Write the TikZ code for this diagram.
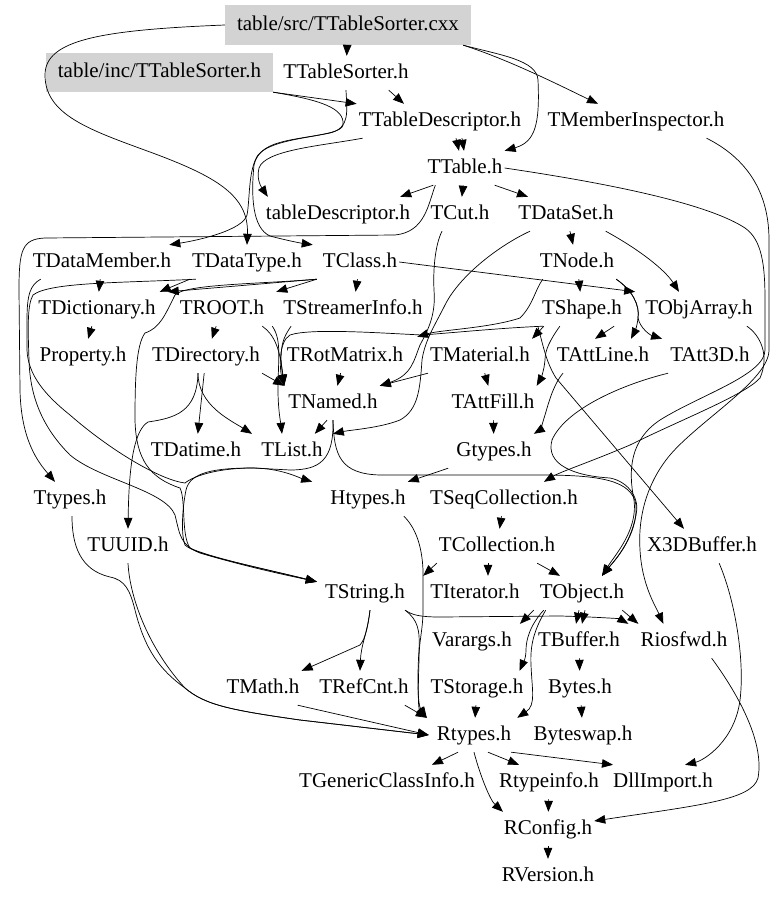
\documentclass[tikz,border=0pt]{standalone}
\usepackage{fontspec}
\setmainfont{Liberation Serif}
\usetikzlibrary{arrows.meta}
\definecolor{srcgray}{RGB}{211,211,211}
\newcommand\nodefont{\fontsize{21}{25}\selectfont}
\tikzset{
  n/.style={inner xsep=2pt, inner ysep=0pt, text height=14pt, text depth=4pt, minimum height=34pt, font=\nodefont},
  srcbox/.style={n, fill=srcgray},
  e/.style={draw, line width=0.7pt, -{Triangle[length=11pt,width=8.5pt]}}
}
\begin{document}
\begin{tikzpicture}[x=1pt,y=1pt]
\fill[white] (0,0) rectangle (779,-900);
\useasboundingbox (0,0) rectangle (779,-900);
% nodes
\node[srcbox, minimum width=246pt, minimum height=40pt] (cxx) at (348,-25) {table/src/TTableSorter.cxx};
\node[srcbox, minimum width=227pt, minimum height=39pt] (inc) at (159.5,-72.5) {table/inc/TTableSorter.h};
\node[n] (TTS) at (346,-73) {TTableSorter.h};
\node[n] (TTD) at (440,-121) {TTableDescriptor.h};
\node[n] (TMI) at (636,-121) {TMemberInspector.h};
\node[n] (TTable) at (465,-168) {TTable.h};
\node[n] (tdesc) at (338,-214) {tableDescriptor.h};
\node[n] (TCut) at (460,-214) {TCut.h};
\node[n] (TDataSet) at (566,-214) {TDataSet.h};
\node[n] (TDataMember) at (102,-262) {TDataMember.h};
\node[n] (TDataType) at (247,-262) {TDataType.h};
\node[n] (TClass) at (360,-262) {TClass.h};
\node[n] (TNode) at (577,-262) {TNode.h};
\node[n] (TDictionary) at (97,-309) {TDictionary.h};
\node[n] (TROOT) at (222,-309) {TROOT.h};
\node[n] (TStreamerInfo) at (353,-309) {TStreamerInfo.h};
\node[n] (TShape) at (582,-309) {TShape.h};
\node[n] (TObjArray) at (699,-309) {TObjArray.h};
\node[n] (Property) at (83,-356) {Property.h};
\node[n] (TDirectory) at (206,-356) {TDirectory.h};
\node[n] (TRotMatrix) at (345,-356) {TRotMatrix.h};
\node[n] (TMaterial) at (480,-356) {TMaterial.h};
\node[n] (TAttLine) at (603,-356) {TAttLine.h};
\node[n] (TAtt3D) at (710,-356) {TAtt3D.h};
\node[n] (TNamed) at (333,-403) {TNamed.h};
\node[n] (TAttFill) at (493,-403) {TAttFill.h};
\node[n] (TDatime) at (196,-451) {TDatime.h};
\node[n] (TList) at (292,-451) {TList.h};
\node[n] (Gtypes) at (494,-451) {Gtypes.h};
\node[n] (Ttypes) at (70,-499) {Ttypes.h};
\node[n] (Htypes) at (368,-499) {Htypes.h};
\node[n] (TSeqCollection) at (504,-499) {TSeqCollection.h};
\node[n] (TUUID) at (128,-546) {TUUID.h};
\node[n] (TCollection) at (497,-546) {TCollection.h};
\node[n] (X3DBuffer) at (702,-546) {X3DBuffer.h};
\node[n] (TString) at (365,-593) {TString.h};
\node[n] (TIterator) at (475,-593) {TIterator.h};
\node[n] (TObject) at (582,-593) {TObject.h};
\node[n] (Varargs) at (472,-641) {Varargs.h};
\node[n] (TBuffer) at (579,-641) {TBuffer.h};
\node[n] (Riosfwd) at (684,-641) {Riosfwd.h};
\node[n] (TMath) at (263,-688) {TMath.h};
\node[n] (TRefCnt) at (364,-688) {TRefCnt.h};
\node[n] (TStorage) at (477,-688) {TStorage.h};
\node[n] (Bytes) at (580,-688) {Bytes.h};
\node[n] (Rtypes) at (474,-735) {Rtypes.h};
\node[n] (Byteswap) at (583,-735) {Byteswap.h};
\node[n] (TGCI) at (387,-782) {TGenericClassInfo.h};
\node[n] (Rtypeinfo) at (549,-782) {Rtypeinfo.h};
\node[n] (DllImport) at (663,-782) {DllImport.h};
\node[n] (RConfig) at (548,-829) {RConfig.h};
\node[n] (RVersion) at (548,-876) {RVersion.h};
% top edges
\draw[e] (cxx) -- (TTS);
\draw[e] ([xshift=-8pt]cxx.south east) .. controls (510,-60) and (565,-88) .. ([xshift=-38pt]TMI.north);
\draw[e] ([xshift=-8pt]cxx.south east) .. controls (500,-55) and (537,-60) .. (538,-80) .. controls (540,-125) and (535,-142) .. (TTable.north east);
\draw[e] (cxx.west) .. controls (100,-30) and (45,-40) .. (45,-75) .. controls (45,-115) and (90,-130) .. (150,-152) .. controls (215,-176) and (249,-195) .. (TDataType.north);
\draw[e] (inc.south east) -- (TTD.north west);
\draw[e] (inc.south east) .. controls (320,-100) and (345,-108) .. (343,-125) .. controls (341,-138) and (275,-135) .. (258,-155) .. controls (248,-170) and (250,-200) .. (247,-215) .. controls (243,-230) and (200,-240) .. ([xshift=-4pt]TDataMember.north east);
\draw[e] ([xshift=-22pt]TTS.south east) -- ([xshift=-36pt]TTD.north);
\draw[e] (TTS.south) .. controls (347,-112) and (350,-128) .. (330,-133) .. controls (290,-141) and (260,-140) .. (254,-165) .. controls (251,-195) and (252,-228) .. (270,-236) .. controls (285,-240) and (300,-243) .. ([xshift=-8pt]TClass.north west);
\draw[e] ([xshift=6pt]TTD.south west) .. controls (320,-146) and (265,-150) .. (259,-168) .. controls (256,-180) and (262,-188) .. ([xshift=4pt]tdesc.north west);
\draw[e] ([xshift=16pt]TTD.south) -- ([xshift=-6pt]TTable.north);
\draw[e] ([xshift=22pt]TTD.south) -- ([xshift=-1pt]TTable.north);
\draw[e] ([xshift=8pt]TTable.south west) -- ([xshift=-12pt]tdesc.north east);
\draw[e] (TTable) -- (TCut);
\draw[e] ([xshift=-10pt]TTable.south east) -- ([xshift=-38pt]TDataSet.north);
\draw[e] ([xshift=10pt]TTable.south west) .. controls (428,-205) and (425,-232) .. (395,-235) -- (45,-238) .. controls (22,-239) and (19,-250) .. (19,-290) -- (20,-390) .. controls (21,-440) and (38,-462) .. ([xshift=-15pt]Ttypes.north);
\draw[e] (TTable.east) .. controls (620,-185) and (710,-205) .. (745,-228) .. controls (762,-240) and (765,-265) .. (765,-300) -- (765,-350) .. controls (765,-375) and (700,-395) .. (660,-420) .. controls (630,-440) and (628,-470) .. (634,-500) .. controls (638,-530) and (615,-555) .. ([xshift=20pt]TObject.north);
\draw[e] ([xshift=-20pt]TMI.south east) .. controls (740,-155) and (769,-185) .. (769,-240) -- (769,-350) .. controls (769,-380) and (700,-420) .. (670,-455) .. controls (645,-485) and (638,-520) .. (640,-550) .. controls (642,-585) and (655,-605) .. ([xshift=25pt]Riosfwd.north west);
% class level
\draw[e] (TDataSet) -- (TNode);
\draw[e] ([xshift=-10pt]TDataSet.south east) .. controls (640,-250) and (665,-270) .. ([xshift=-20pt]TObjArray.north);
\draw[e] (TDataMember) -- (TDictionary);
\draw[e] (TDataType.south west) -- ([xshift=2pt]TDictionary.north east);
\draw[e] ([xshift=-4pt]TClass.south west) -- ([xshift=10pt]TDictionary.north east);
\draw[e] ([xshift=-4pt]TClass.south west) -- ([xshift=10pt]TROOT.north east);
\draw[e] (TClass) -- (TStreamerInfo);
\draw[e] (TClass.east) -- ([xshift=-8pt]TObjArray.north west);
\draw[e] ([xshift=10pt]TDataMember.south west) .. controls (30,-285) and (27,-295) .. (27,-320) -- (27,-350) .. controls (28,-375) and (45,-395) .. (70,-415) .. controls (110,-450) and (160,-480) .. (185,-483) .. controls (195,-475) and (220,-468) .. (253,-468) .. controls (280,-468) and (300,-478) .. ([xshift=-16pt]Htypes.north west);
\draw[e] ([xshift=6pt]TDataType.south west) .. controls (120,-283) and (50,-282) .. (33,-295) .. controls (27,-305) and (28,-330) .. (29,-360) .. controls (30,-400) and (45,-430) .. (70,-455) .. controls (100,-480) and (165,-490) .. (175,-515) .. controls (180,-535) and (180,-545) .. (200,-553) .. controls (250,-568) and (300,-578) .. ([xshift=-6pt,yshift=-6pt]TString.north west);
\draw[e] ([xshift=-4pt]TClass.south west) .. controls (260,-284) and (185,-284) .. (175,-295) .. controls (165,-315) and (160,-328) .. (145,-333) .. controls (136,-345) and (135,-380) .. (135,-420) .. controls (136,-460) and (150,-478) .. (180,-488) .. controls (186,-500) and (181,-535) .. (190,-548) .. controls (210,-558) and (290,-575) .. ([xshift=-6pt,yshift=-6pt]TString.north west);
% dictionary / root level
\draw[e] (TDictionary) -- (Property);
\draw[e] (TROOT) -- (TDirectory);
\draw[e] ([xshift=-4pt]TROOT.south east) .. controls (275,-335) and (280,-350) .. ([xshift=-2pt]TNamed.north west);
\draw[e] ([xshift=6pt]TROOT.south east) .. controls (282,-340) and (278,-360) .. (278,-390) .. controls (278,-410) and (281,-425) .. ([xshift=-10pt]TList.north);
\draw[e] ([xshift=10pt]TStreamerInfo.south west) .. controls (285,-335) and (278,-345) .. ([xshift=-2pt]TNamed.north west);
\draw[e] (TDirectory.south east) -- ([xshift=-2pt]TNamed.north west);
\draw[e] (TDirectory) -- (TDatime);
\draw[e] ([xshift=-8pt]TDirectory.south) .. controls (198,-405) and (230,-420) .. ([xshift=-40pt]TList.north);
\draw[e] ([xshift=-8pt]TDirectory.south) .. controls (197,-412) and (175,-418) .. (148,-422) .. controls (135,-430) and (129,-460) .. (TUUID.north);
\draw[e] (TRotMatrix) -- (TNamed);
% node / shape level
\draw[e] ([xshift=5pt]TNode.south west) .. controls (535,-290) and (533,-305) .. (520,-318) .. controls (490,-328) and (440,-330) .. ([xshift=12pt,yshift=2pt]TRotMatrix.north east);
\draw[e] ([xshift=3pt]TShape.south west) .. controls (500,-328) and (450,-333) .. (422,-335) .. controls (380,-333) and (310,-328) .. (290,-335) .. controls (278,-342) and (280,-370) .. ([xshift=-2pt]TNamed.north west);
\draw[e] ([xshift=-18pt]TCut.south) .. controls (435,-245) and (433,-270) .. (434,-290) .. controls (436,-315) and (428,-330) .. (420,-345) .. controls (414,-360) and (412,-375) .. (TNamed.north east);
\draw[e] (TMaterial.south west) -- (TNamed.north east);
\draw[e] ([xshift=-36pt]TDataSet.south) .. controls (500,-245) and (460,-275) .. (445,-305) .. controls (435,-325) and (425,-340) .. (422,-360) .. controls (420,-390) and (418,-410) .. (400,-420) .. controls (380,-428) and (350,-430) .. ([xshift=8pt]TList.north east);
\draw[e] (TNode) -- (TShape);
\draw[e] (TNode.south east) .. controls (632,-290) and (640,-305) .. (638,-318) .. controls (637,-328) and (634,-333) .. ([xshift=28pt]TAttLine.north);
\draw[e] (TNode.south east) .. controls (632,-290) and (640,-305) .. (638,-318) .. controls (640,-328) and (650,-335) .. ([xshift=-6pt]TAtt3D.north west);
\draw[e] ([xshift=4pt]TShape.south west) -- (TMaterial.north east);
\draw[e] ([xshift=-10pt]TShape.south east) -- ([xshift=-8pt]TAttLine.north);
\draw[e] ([xshift=20pt]TShape.south west) .. controls (550,-340) and (545,-350) .. (545,-360) .. controls (544,-372) and (540,-380) .. (TAttFill.north east);
\draw[e] ([xshift=-2pt]TShape.south west) .. controls (543,-345) and (546,-362) .. (556,-378) -- ([xshift=-18pt]X3DBuffer.north);
\draw[e] (TMaterial) -- (TAttFill);
\draw[e] (TAttFill) -- (Gtypes);
\draw[e] ([xshift=-40pt]TAttLine.south) .. controls (553,-385) and (548,-405) .. (545,-415) .. controls (542,-425) and (540,-430) .. (Gtypes.north east);
\draw[e] ([xshift=-6pt]TNamed.south) -- ([xshift=-10pt]TList.north east);
\draw[e] ([xshift=-8pt]TObjArray.south east) .. controls (760,-335) and (770,-355) .. (760,-378) .. controls (745,-395) and (680,-420) .. (630,-445) .. controls (590,-462) and (560,-472) .. ([xshift=40pt]TSeqCollection.north);
\draw[e] (TAtt3D.south west) .. controls (620,-385) and (565,-410) .. (552,-440) .. controls (545,-465) and (575,-476) .. (610,-478) .. controls (630,-482) and (640,-500) .. (636,-515) .. controls (630,-545) and (615,-560) .. ([xshift=20pt]TObject.north);
% named / collections
\draw[e] (TNamed.south) .. controls (334,-455) and (340,-474) .. (380,-475) -- (540,-475) .. controls (600,-475) and (632,-480) .. (636,-505) .. controls (638,-535) and (615,-560) .. ([xshift=20pt]TObject.north);
\draw[e] (TNamed.south) .. controls (334,-460) and (320,-470) .. (290,-470) -- (253,-468) .. controls (215,-468) and (190,-472) .. (186,-490) .. controls (182,-510) and (181,-535) .. (185,-545) .. controls (195,-555) and (250,-565) .. ([xshift=-6pt,yshift=-6pt]TString.north west);
\draw[e] ([xshift=-6pt]Gtypes.south west) -- (Htypes.north east);
\draw[e] (TSeqCollection) -- (TCollection);
\draw[e] ([xshift=-9pt]TCollection.south) -- ([xshift=13pt]TIterator.north);
\draw[e] ([xshift=-20pt]TCollection.south east) -- ([xshift=-22pt]TObject.north);
\draw[e] (TCollection.south west) -- ([xshift=16pt]TString.north east);
% lower part
\draw[e] ([xshift=-3pt]TObject.south) -- ([xshift=-3pt]TBuffer.north);
\draw[e] ([xshift=3pt]TObject.south) -- ([xshift=3pt]TBuffer.north);
\draw[e] ([xshift=-4pt]TObject.south west) -- ([xshift=6pt]Varargs.north east);
\draw[e] ([xshift=-4pt]TObject.south east) -- (Riosfwd.north west);
\draw[e] ([xshift=6pt]TObject.south west) .. controls (530,-625) and (526,-640) .. (526,-650) .. controls (526,-660) and (522,-665) .. ([xshift=-6pt]TStorage.north east);
\draw[e] ([xshift=8pt]TObject.south west) .. controls (534,-630) and (530,-645) .. (531,-665) .. controls (532,-690) and (536,-705) .. ([xshift=4pt]Rtypes.north east);
\draw[e] ([xshift=5pt]TString.south) .. controls (368,-625) and (366,-638) .. (360,-645) -- (TMath.north east);
\draw[e] ([xshift=5pt]TString.south) .. controls (368,-630) and (361,-645) .. ([xshift=-4pt]TRefCnt.north);
\draw[e] ([xshift=-2pt]TString.south east) .. controls (412,-615) and (420,-617) .. (440,-617) -- (560,-616) .. controls (600,-617) and (620,-619) .. ([xshift=-10pt]Riosfwd.north west);
\draw[e] ([xshift=-2pt]TString.south east) .. controls (418,-620) and (420,-630) .. (419,-650) .. controls (417,-680) and (418,-705) .. ([xshift=-8pt]Rtypes.north west);
\draw[e] ([xshift=-4pt]Htypes.south east) .. controls (415,-527) and (422,-545) .. (423,-570) -- (423,-610) .. controls (423,-630) and (419,-640) .. (419,-660) .. controls (418,-690) and (418,-708) .. ([xshift=-8pt]Rtypes.north west);
\draw[e] (TStorage) -- (Rtypes);
\draw[e] ([xshift=-6pt]TRefCnt.south east) -- ([xshift=-8pt]Rtypes.north west);
\draw[e] ([xshift=-4pt]TMath.south east) -- ([xshift=-6pt]Rtypes.west);
\draw[e] (TUUID.south) .. controls (130,-600) and (150,-650) .. (185,-688) .. controls (205,-705) and (230,-710) .. (300,-720) -- ([xshift=-6pt]Rtypes.west);
\draw[e] ([xshift=2pt]Ttypes.south) .. controls (72,-545) and (80,-570) .. (110,-577) .. controls (125,-580) and (130,-590) .. (135,-610) .. controls (145,-650) and (160,-670) .. (185,-688) .. controls (205,-705) and (230,-710) .. (300,-720) -- ([xshift=-6pt]Rtypes.west);
\draw[e] (TBuffer) -- (Bytes);
\draw[e] (Bytes) -- (Byteswap);
\draw[e] ([xshift=-16pt]Rtypes.south) -- ([xshift=-45pt]TGCI.north east);
\draw[e] ([xshift=14pt]Rtypes.south) -- ([xshift=-30pt]Rtypeinfo.north);
\draw[e] ([xshift=-2pt]Rtypes.south east) -- ([xshift=-50pt]DllImport.north);
\draw[e] (Rtypes.south) .. controls (480,-775) and (490,-800) .. ([xshift=-45pt]RConfig.north);
\draw[e] (Rtypeinfo) -- (RConfig);
\draw[e] (RConfig) -- (RVersion);
\draw[e] ([xshift=-18pt]Riosfwd.south east) .. controls (735,-690) and (765,-740) .. (758,-778) .. controls (752,-800) and (700,-805) .. ([yshift=8pt]RConfig.east);
\draw[e] ([xshift=-40pt]X3DBuffer.south east) .. controls (735,-600) and (745,-660) .. (740,-700) .. controls (735,-740) and (705,-760) .. ([xshift=-30pt]DllImport.north east);
\end{tikzpicture}
\end{document}
